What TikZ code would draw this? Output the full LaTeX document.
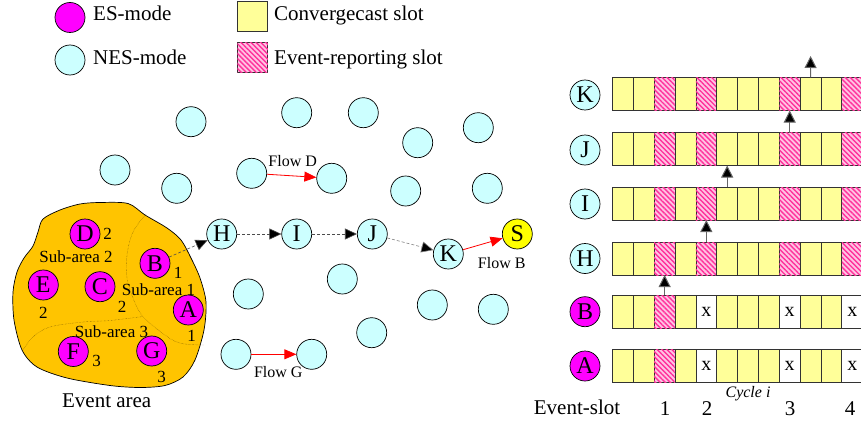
\documentclass[tikz,border=0pt]{standalone}
\usepackage{fontspec}
\setmainfont{Liberation Serif}
\usetikzlibrary{arrows.meta,patterns.meta}
\definecolor{nescyan}{RGB}{204,255,255}
\definecolor{esmag}{RGB}{255,0,255}
\definecolor{sinky}{RGB}{255,255,0}
\definecolor{slotyel}{RGB}{255,255,153}
\definecolor{evorange}{RGB}{255,196,0}
\definecolor{pinkbg}{RGB}{255,195,228}
\definecolor{pinkln}{RGB}{255,50,155}
\definecolor{subln}{RGB}{110,80,0}
\tikzset{
  x=1pt, y=-1pt,
  nodecirc/.style={circle, draw=black, line width=0.7pt, minimum size=30pt, inner sep=0pt, font=\fontsize{24}{24}\selectfont},
  nes/.style={nodecirc, fill=nescyan},
  es/.style={nodecirc, fill=esmag},
  sink/.style={nodecirc, fill=sinky},
  lbl/.style={font=\fontsize{17}{17}\selectfont, inner sep=0pt},
  flowlbl/.style={font=\fontsize{16}{16}\selectfont, inner sep=0pt},
  biglbl/.style={font=\fontsize{21}{21}\selectfont, inner sep=0pt},
  hop/.style={dash pattern=on 3pt off 2pt, draw=black!70, line width=0.6pt, -{Triangle[length=12pt,width=11pt,fill=black]}},
  flow/.style={draw=red, line width=0.8pt, -{Triangle[length=12pt,width=10pt,fill=red]}},
  subline/.style={draw=subln, line width=0.4pt, densely dotted},
  cslot/.style={draw=black!80, line width=0.8pt, fill=slotyel, minimum width=20.85pt, minimum height=33pt, inner sep=0pt, outer sep=0pt},
  eslot/.style={cslot, fill=pinkbg, postaction={pattern={Lines[angle=-45,distance=3.5pt,line width=1.4pt]}, pattern color=pinkln}},
  xslot/.style={cslot, fill=white, font=\fontsize{20}{20}\selectfont},
  uparrow/.style={draw=black!60, line width=1pt, -{Triangle[length=12pt,width=12pt,fill=black]}},
}
\begin{document}
\begin{tikzpicture}
\useasboundingbox (0,0) rectangle (861,425);

% legend
\node[es] (lgES) at (70,17.5) {};
\node[biglbl, anchor=base west] (lgEStxt) at (93,21) {ES-mode};
\node[nes] (lgNES) at (70,60) {};
\node[biglbl, anchor=base west] (lgNEStxt) at (93,65) {NES-mode};
\node[cslot, minimum width=30.5pt, minimum height=30.5pt] (lgC) at (252.5,16.5) {};
\node[biglbl, anchor=base west] (lgCtxt) at (274,21) {Convergecast slot};
\node[eslot, minimum width=30.5pt, minimum height=30pt] (lgE) at (252.5,57.7) {};
\node[biglbl, anchor=base west] (lgEtxt) at (274,65) {Event-reporting slot};

% event area
\draw[fill=evorange, line width=0.7pt] plot[smooth cycle, tension=0.5] coordinates {(100,202.5) (128,203.5) (145,215) (167,228) (181,240) (191,258) (200,278) (206,302) (204,330) (195,360) (183,377) (165,385.5) (140,387.5) (110,385.5) (67,378) (37,367) (22,350) (14,320) (13,292) (17,272) (24,258) (33,246) (38,232) (43,219) (60,210) (80,204)};
\draw[subline] plot[smooth, tension=0.6] coordinates {(146,214) (133,232) (127,255) (127,278) (133,298) (143,316.5) (167,336.5) (182,343.5) (204,345)};
\draw[subline] plot[smooth, tension=0.6] coordinates {(23,350) (33,337) (50,327) (83,322) (110,320.5) (143,316.5)};

\node[es] (D) at (85,234) {D};
\node[es] (B) at (155,263.3) {B};
\node[es] (E) at (43.3,285) {E};
\node[es] (C) at (100,286.7) {C};
\node[es] (A) at (188.3,310) {A};
\node[es] (F) at (73.3,351.5) {F};
\node[es] (G) at (151.7,351) {G};

\node[lbl] (nD) at (107.5,234) {2};
\node[lbl] (nB) at (178,272.5) {1};
\node[lbl] (nE) at (43.3,312.5) {2};
\node[lbl] (nC) at (122,306.5) {2};
\node[lbl] (nA) at (191.5,336) {1};
\node[lbl] (nF) at (96.5,361) {3};
\node[lbl] (nG) at (161.5,377) {3};
\node[lbl] (sa2) at (76,257) {Sub-area 2};
\node[lbl] (sa1) at (158.5,289.5) {Sub-area 1};
\node[lbl] (sa3) at (111.5,332) {Sub-area 3};
\node[biglbl] (evarea) at (106.7,401) {Event area};

% other nodes
\foreach \n/\px/\py in {o1/191/121.7, o2/115/170, o3/176.7/188.3, o4/296.7/112.7, o5/363.3/112.7, o6/417.7/142.7, o7/478.3/127.7, o8/405.7/191, o9/487.3/188.3, o10/342.3/279, o11/248.3/294, o12/432.3/305, o13/493.3/309.3, o14/371.7/332.7}
  \node[nes] (\n) at (\px,\py) {};
\node[nes] (fD1) at (251.7,173.3) {};
\node[nes] (fD2) at (331.7,178.3) {};
\node[nes] (fG1) at (236,354.3) {};
\node[nes] (fG2) at (311.7,354.3) {};
\node[nes] (H) at (221.7,234) {H};
\node[nes] (I) at (296.7,234) {I};
\node[nes] (J) at (372.3,234) {J};
\node[nes] (K) at (448.3,254) {K};
\node[sink] (S) at (517.3,234) {S};

\draw[hop] (B) -- (H);
\draw[hop] (H) -- (I);
\draw[hop] (I) -- (J);
\draw[hop, draw=black!50] (J) -- (K);
\draw[flow] (K) -- (S);
\draw[flow] (fD1) -- (fD2);
\draw[flow] (fG1) -- (fG2);
\node[flowlbl] (lfD) at (292.7,161) {Flow D};
\node[flowlbl] (lfB) at (501.7,263.5) {Flow B};
\node[flowlbl] (lfG) at (278.3,372) {Flow G};

% slot rows
\foreach \r/\yy in {K/94,J/149,I/203.5,H/258.5}{
  \foreach \i/\s in {1/cslot,2/cslot,3/eslot,4/cslot,5/eslot,6/cslot,7/cslot,8/cslot,9/eslot,10/cslot,11/cslot,12/eslot}
    \node[\s] (s\r\i) at ({612.5+(\i-0.5)*20.85},\yy) {};
}
\foreach \r/\yy in {B/311.7,A/366}{
  \foreach \i/\s/\t in {1/cslot/{},2/cslot/{},3/eslot/{},4/cslot/{},5/xslot/x,6/cslot/{},7/cslot/{},8/cslot/{},9/xslot/x,10/cslot/{},11/cslot/{},12/xslot/x}
    \node[\s] (s\r\i) at ({612.5+(\i-0.5)*20.85},\yy) {\t};
}
\node[nes] (rK) at (585,95) {K};
\node[nes] (rJ) at (585,150) {J};
\node[nes] (rI) at (585,204) {I};
\node[nes] (rH) at (585,258.5) {H};
\node[es] (rB) at (585,311.7) {B};
\node[es] (rA) at (585,366) {A};

\draw[uparrow] (sB3.north) -- (sH3.south);
\draw[uparrow] (sH5.north) -- (sI5.south);
\draw[uparrow] (sI6.north) -- (sJ6.south);
\draw[uparrow] (sJ9.north) -- (sK9.south);
\coordinate (kout) at (810.6,56);
\draw[uparrow] (sK10.north) -- (kout);

\node[biglbl] (evslot) at (577,407) {Event-slot};
\node[biglbl] (e1) at (665,409) {1};
\node[biglbl] (e2) at (707,409) {2};
\node[biglbl] (e3) at (790,409) {3};
\node[biglbl] (e4) at (850,409) {4};
\node[flowlbl, anchor=base] (cyc) at (748,397) {\itshape Cycle i};
\end{tikzpicture}
\end{document}
